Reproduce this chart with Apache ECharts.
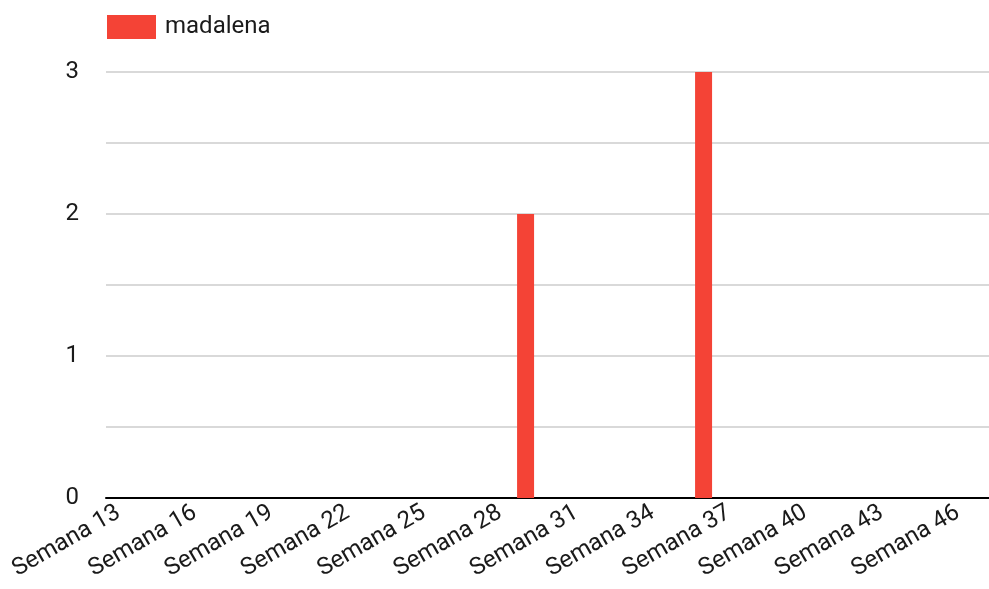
<!DOCTYPE html>
<html>
<head>
<meta charset="utf-8">
<script src="https://cdn.jsdelivr.net/npm/echarts@6/dist/echarts.min.js"></script>
<style>html,body{margin:0;padding:0;background:#fff;}#c{width:989px;height:589px;}</style>
</head>
<body>
<div id="c"></div>
<script>
const weeks = [13,14,15,16,17,18,19,20,21,22,23,24,25,26,27,28,29,30,31,32,33,34,35,36,37,38,39,40,41,42,43,44,45,46,47];
const categories = weeks.map(w => 'Semana ' + w);
const seriesName = 'madalena';
const values = [0,0,0,0,0,0,0,0,0,0,0,0,0,0,0,0,2,0,0,0,0,0,0,3,0,0,0,0,0,0,0,0,0,0,0];
const yTicks = [0, 1, 2, 3];

const chart = echarts.init(document.getElementById('c'), null, {renderer: 'canvas'});
chart.setOption({
  animation: false,
  backgroundColor: '#ffffff',
  textStyle: {fontFamily: 'Roboto'},
  legend: {
    show: true,
    left: 107, top: 15,
    padding: 0,
    itemWidth: 49, itemHeight: 24,
    icon: 'rect',
    textStyle: {fontSize: 24, color: '#1a1a1a', fontFamily: 'Roboto', padding: [0, 0, 0, 4]},
    data: [seriesName]
  },
  grid: {left: 106, right: -7, top: 72, bottom: 91, containLabel: false, outerBoundsMode: 'none'},
  xAxis: {
    type: 'category',
    data: categories,
    boundaryGap: true,
    axisTick: {show: false},
    axisLine: {show: true, lineStyle: {color: '#000000', width: 2}},
    axisLabel: {interval: 2, rotate: 30, margin: 13, fontSize: 24, color: '#1a1a1a', fontFamily: 'Roboto'},
    splitLine: {show: false}
  },
  yAxis: {
    type: 'value',
    min: 0, max: 3, interval: 0.5,
    axisLine: {show: false},
    axisTick: {show: false},
    axisLabel: {
      margin: 27, fontSize: 24, color: '#1a1a1a', fontFamily: 'Roboto',
      formatter: v => yTicks.includes(v) ? String(v) : ''
    },
    splitLine: {show: true, lineStyle: {color: '#cccccc', width: 1.5}}
  },
  series: [{
    name: seriesName,
    type: 'bar',
    data: values,
    barWidth: 17,
    itemStyle: {color: '#f44336'}
  }]
});
</script>
</body>
</html>
